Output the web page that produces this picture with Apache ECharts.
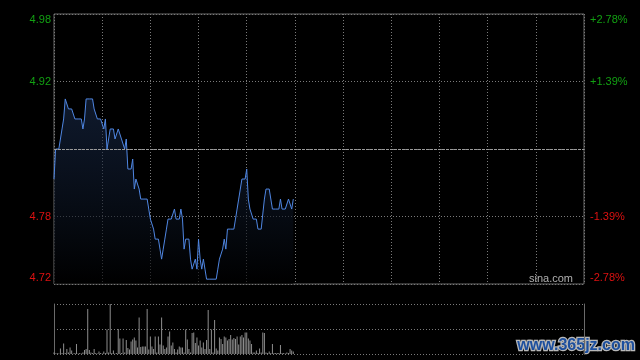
<!DOCTYPE html>
<html><head><meta charset="utf-8">
<script src="https://cdn.jsdelivr.net/npm/echarts@6/dist/echarts.min.js"></script>
<style>html,body{margin:0;padding:0;background:#000;}#c{width:640px;height:360px;}</style>
</head><body><div id="c"></div>
<script>
// ---- data ----
const prevClose = 4.85;
const sessionMinutes = 330;          // HK trading day: 09:30-12:00, 13:00-16:00
const pctRange = 2.78;               // axis extent, percent of previous close
const pctStep = 1.39;
const leftTickLabels = ['4.72', '4.78', '', '4.92', '4.98'];
const rightTickLabels = ['-2.78%', '-1.39%', '', '+1.39%', '+2.78%'];
const prices = [
  4.82,4.85,4.85,4.85,4.86,4.87,4.88,4.90,4.90,4.89,
  4.89,4.89,4.89,4.88,4.88,4.88,4.88,4.88,4.87,4.88,
  4.90,4.90,4.90,4.90,4.90,4.89,4.89,4.88,4.88,4.88,
  4.88,4.87,4.88,4.85,4.86,4.87,4.87,4.87,4.86,4.86,
  4.87,4.87,4.86,4.86,4.85,4.86,4.83,4.83,4.83,4.84,
  4.81,4.82,4.82,4.81,4.80,4.80,4.80,4.80,4.80,4.79,
  4.78,4.78,4.77,4.76,4.76,4.76,4.75,4.74,4.75,4.76,
  4.77,4.78,4.78,4.78,4.78,4.79,4.78,4.78,4.78,4.79,
  4.78,4.75,4.76,4.76,4.76,4.74,4.73,4.73,4.74,4.73,
  4.76,4.74,4.73,4.74,4.73,4.72,4.72,4.72,4.72,4.72,
  4.72,4.72,4.73,4.74,4.74,4.75,4.76,4.75,4.77,4.77,
  4.77,4.77,4.77,4.78,4.79,4.80,4.81,4.82,4.82,4.82,
  4.83,4.80,4.79,4.79,4.78,4.78,4.78,4.77,4.77,4.77,
  4.77,4.80,4.81,4.81,4.81,4.81,4.79,4.79,4.79,4.79,
  4.79,4.80,4.79,4.79,4.79,4.79,4.80,4.80,4.79,4.80
];
const volumes = [
  3,1,2,1,11,2,21,2,10,3,
  13,7,1,2,20,1,2,1,3,8,
  10,90,8,3,2,10,2,1,5,2,
  1,5,2,49,3,100,2,7,1,2,
  50,31,2,31,3,28,12,9,25,29,
  33,27,13,73,14,15,15,15,90,9,
  35,15,10,35,3,35,19,73,17,10,
  13,35,45,17,23,10,3,9,15,13,
  13,3,49,29,10,3,42,43,22,33,
  17,27,13,23,10,28,88,10,49,3,
  68,11,7,33,30,20,35,33,27,30,
  38,29,32,30,35,19,35,38,33,43,
  43,31,27,20,3,3,7,2,11,3,
  43,42,3,2,5,2,20,2,2,2,
  2,18,2,2,1,3,2,10,7,5
];

// ---- style ----
const GREEN = '#12a012', RED = '#dd1111';
const FONT = 'Liberation Sans, Arial, sans-serif';
const gridGray = '#7a7a7a', borderGray = '#6a6a6a';

const linePts = prices.map((p, i) => [i, (p / prevClose - 1) * 100]);
const volPts = volumes.map((v, i) => [i, v]);
const volMax = Math.max.apply(null, volumes);

function richFor(color) {
  return { color: color, fontSize: 11, fontFamily: FONT };
}
const rich = {
  g: richFor(GREEN), r: richFor(RED),
  gT: Object.assign(richFor(GREEN), { padding: [12, 0, 0, 0] }),
  rB: Object.assign(richFor(RED), { padding: [0, 0, 12, 0] })
};
function labelFmt(arr) {
  return function (v, idx) {
    const t = arr[idx];
    if (!t) return '';
    const s = v > 0 ? 'g' : 'r';
    const pos = idx === arr.length - 1 ? 'T' : (idx === 0 ? 'B' : '');
    return '{' + s + pos + '|' + t + '}';
  };
}

const chart = echarts.init(document.getElementById('c'), null, { renderer: 'canvas' });
chart.setOption({
  backgroundColor: '#000',
  animation: false,
  grid: [
    { left: 54, top: 14, width: 530, height: 270, show: true, borderColor: borderGray, borderWidth: 1, backgroundColor: 'transparent' },
    { left: 54, top: 304, width: 530, height: 50, show: false }
  ],
  xAxis: [
    { type: 'value', gridIndex: 0, min: 0, max: sessionMinutes, interval: 30,
      axisLine: { show: false }, axisTick: { show: false }, axisLabel: { show: false },
      splitLine: { show: true, lineStyle: { color: gridGray, type: [1, 2], width: 1 } } },
    { type: 'value', gridIndex: 1, min: 0, max: sessionMinutes, interval: 30,
      axisLine: { show: false }, axisTick: { show: false }, axisLabel: { show: false },
      splitLine: { show: false } }
  ],
  yAxis: [
    { type: 'value', gridIndex: 0, position: 'left', min: -pctRange, max: pctRange, interval: pctStep,
      axisLine: { show: false }, axisTick: { show: false },
      axisLabel: { show: true, margin: 3, showMinLabel: true, showMaxLabel: true, formatter: labelFmt(leftTickLabels), rich: rich },
      splitLine: { show: true, lineStyle: { color: gridGray, type: [1, 2], width: 1 } } },
    { type: 'value', gridIndex: 0, position: 'right', min: -pctRange, max: pctRange, interval: pctStep,
      axisLine: { show: false }, axisTick: { show: false },
      axisLabel: { show: true, margin: 6, showMinLabel: true, showMaxLabel: true, formatter: labelFmt(rightTickLabels), rich: rich },
      splitLine: { show: false } },
    { type: 'value', gridIndex: 1, position: 'left', min: 0, max: volMax, interval: volMax / 2,
      axisLine: { show: true, lineStyle: { color: borderGray } }, axisTick: { show: false }, axisLabel: { show: false },
      splitLine: { show: true, lineStyle: { color: gridGray, type: [1, 2], width: 1 } } },
    { type: 'value', gridIndex: 1, position: 'right', min: 0, max: volMax, interval: volMax / 2,
      axisLine: { show: true, lineStyle: { color: borderGray } }, axisTick: { show: false }, axisLabel: { show: false },
      splitLine: { show: false } }
  ],
  series: [
    { type: 'line', xAxisIndex: 0, yAxisIndex: 0, data: linePts, showSymbol: false, symbol: 'none',
      lineStyle: { color: '#4f86e2', width: 1 },
      areaStyle: { origin: 'start', color: new echarts.graphic.LinearGradient(0, 0, 0, 1, [
        { offset: 0, color: 'rgba(28,48,84,0.75)' }, { offset: 1, color: 'rgba(0,0,0,0.9)' }]) },
      markLine: { silent: true, symbol: 'none', label: { show: false },
        lineStyle: { color: '#9a9a9a', type: [3, 1], width: 1 }, data: [{ yAxis: 0 }] },
      z: 3 },
    { type: 'bar', xAxisIndex: 1, yAxisIndex: 2, data: volPts, barWidth: 1,
      itemStyle: { color: '#8e8e8e' } }
  ],
  graphic: [
    { type: 'text', right: 67, top: 273, style: { text: 'sina.com', fill: '#b0b0b0', font: '11px ' + FONT } },
    { type: 'text', left: 516, top: 336, style: { text: 'www.365jz.com', fill: '#1d4f9e', stroke: '#b8b8b8', lineWidth: 2.5,
      font: 'bold 16px "Liberation Sans", Arial, sans-serif' } }
  ]
});
</script>
</body></html>
